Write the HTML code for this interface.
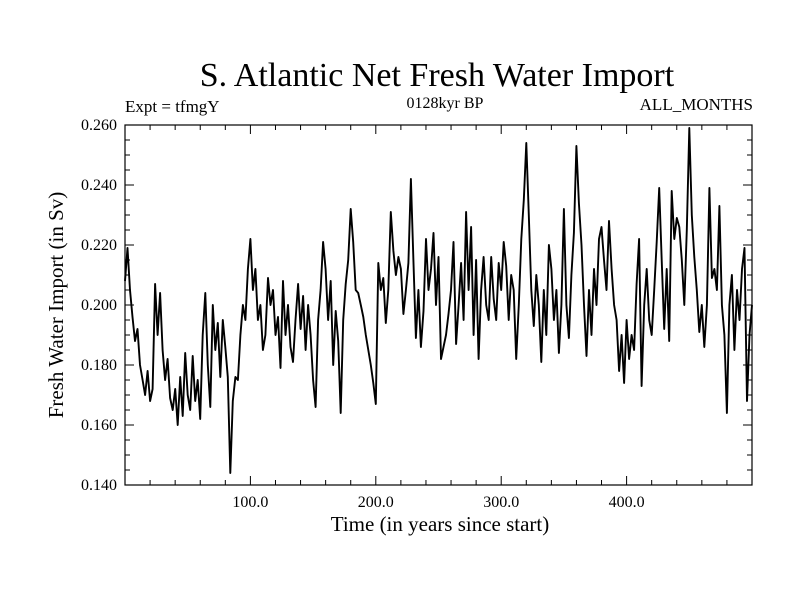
<!DOCTYPE html>
<html><head><meta charset="utf-8"><style>
body{margin:0;background:#fff}
svg{display:block}
text{font-family:"Liberation Serif",serif;fill:#000}
</style></head><body>
<svg id="chart" width="800" height="600">
<text x="437" y="86" font-size="34" text-anchor="middle">S. Atlantic Net Fresh Water Import</text>
<text x="125" y="112" font-size="17">Expt = tfmgY</text>
<text x="445" y="108" font-size="16" text-anchor="middle">0128kyr BP</text>
<text x="753" y="110" font-size="17" text-anchor="end">ALL_MONTHS</text>
<text x="440" y="531" font-size="21" text-anchor="middle">Time (in years since start)</text>
<text transform="translate(63,305) rotate(-90)" font-size="21" text-anchor="middle">Fresh Water Import (in Sv)</text>
<g id="axes"></g>
<path id="series" fill="none" stroke="#000" stroke-width="1.9" stroke-linejoin="round"/>
</svg>
<script>
const years = Array.from({length:251},(_, i)=>i*2);
const values = [
208,219,205,196,188,192,180,175,170,178,168,
172,207,190,204,185,175,182,169,165,172,
160,176,163,184,170,165,183,168,175,162,
190,204,180,166,200,185,194,176,195,186,
176,144,168,176,175,190,200,195,212,222,
205,212,195,200,185,190,209,200,205,190,
196,179,208,190,200,186,181,195,207,192,
203,185,200,190,175,166,195,205,221,212,
195,208,180,198,188,164,195,207,215,232,
221,205,204,200,196,190,185,180,174,167,
214,205,209,194,205,231,218,210,216,212,
197,205,214,242,215,189,205,186,198,222,
205,212,224,200,216,182,186,190,197,205,
221,187,200,214,195,231,205,226,190,215,
182,205,216,200,195,216,202,195,214,205,
221,213,195,210,205,182,200,222,235,254,
230,205,193,210,200,181,205,190,220,212,
195,205,184,200,232,200,189,210,224,253,
234,220,200,183,205,190,212,200,222,226,
215,205,228,212,200,195,178,190,174,195,
182,190,185,207,222,173,200,212,195,190,
205,221,239,215,192,212,188,238,222,229,
226,215,200,225,259,230,216,205,191,200,
186,200,239,209,212,205,233,200,190,164,
200,210,185,205,195,212,219,168,190,200
];
const xTickLabels = ["100.0","200.0","300.0","400.0"];
const xTickVals = [100,200,300,400];
const yTickLabels = ["0.140","0.160","0.180","0.200","0.220","0.240","0.260"];
const yTickVals = [0.14,0.16,0.18,0.20,0.22,0.24,0.26];

const L=125,R=752,T=125,B=485;
const xS=v=>L+(v-0)/(500-0)*(R-L);
const yS=v=>B-(v-0.14)/(0.26-0.14)*(B-T);
const NS="http://www.w3.org/2000/svg";
const g=document.getElementById('axes');
function ln(x1,y1,x2,y2,w){const e=document.createElementNS(NS,'line');
e.setAttribute('x1',x1);e.setAttribute('y1',y1);e.setAttribute('x2',x2);e.setAttribute('y2',y2);
e.setAttribute('stroke','#000');e.setAttribute('stroke-width',w||1);g.appendChild(e);return e;}
const fr=document.createElementNS(NS,'rect');
fr.setAttribute('x',L);fr.setAttribute('y',T);fr.setAttribute('width',R-L);fr.setAttribute('height',B-T);
fr.setAttribute('fill','none');fr.setAttribute('stroke','#000');fr.setAttribute('stroke-width','1.2');


g.appendChild(fr);
for(let y=20;y<500;y+=20){const x=xS(y);const len=(y%100===0)?9:5;ln(x,B,x,B-len);ln(x,T,x,T+len);}
for(let k=0;k<=24;k++){const v=0.14+k*0.005;const y=yS(v);const len=(k%4===0)?9:5;ln(L,y,L+len,y);ln(R,y,R-len,y);}
xTickVals.forEach((v,i)=>{const t=document.createElementNS(NS,'text');
t.setAttribute('x',xS(v));t.setAttribute('y',B+22);t.setAttribute('font-size','16');t.setAttribute('text-anchor','middle');
t.textContent=xTickLabels[i];


g.appendChild(t);});
yTickVals.forEach((v,i)=>{const t=document.createElementNS(NS,'text');
t.setAttribute('x',L-8);t.setAttribute('y',yS(v)+5);t.setAttribute('font-size','16');t.setAttribute('text-anchor','end');
t.textContent=yTickLabels[i];


g.appendChild(t);});
let d='';
values.forEach((v,i)=>{d+=(i?'L':'M')+xS(years[i]).toFixed(1)+','+yS(v/1000).toFixed(1);});
document.getElementById('series').setAttribute('d',d);
</script>
</body></html>
